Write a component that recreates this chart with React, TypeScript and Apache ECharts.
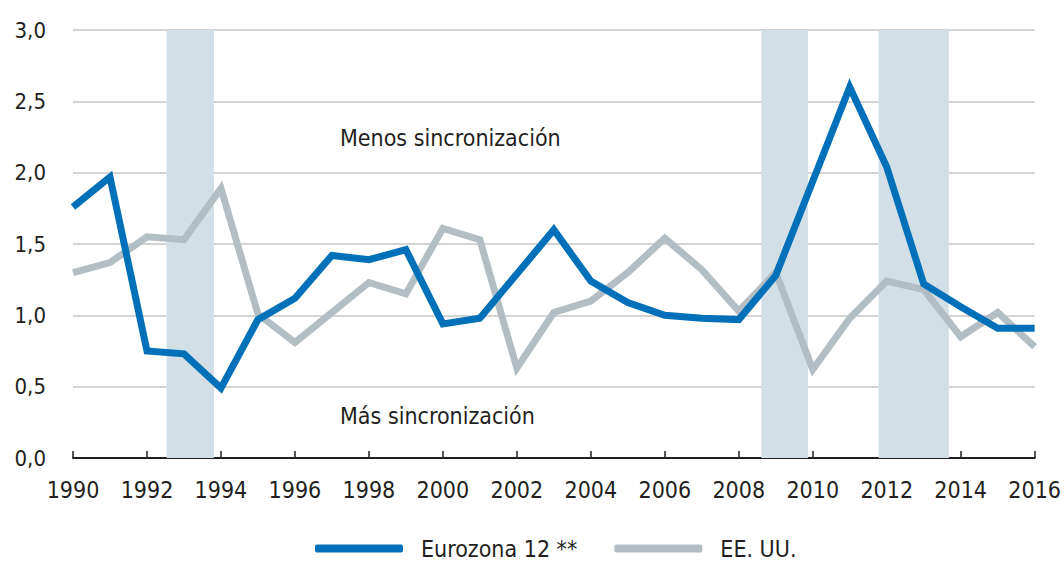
import React, { useEffect, useRef } from "react";
import * as echarts from "echarts";

const years = [1990,1991,1992,1993,1994,1995,1996,1997,1998,1999,2000,2001,2002,2003,2004,2005,2006,2007,2008,2009,2010,2011,2012,2013,2014,2015,2016];
const eurozona = [1.76,1.97,0.75,0.73,0.49,0.97,1.12,1.42,1.39,1.46,0.94,0.98,1.29,1.60,1.24,1.09,1.00,0.98,0.97,1.28,1.94,2.60,2.04,1.22,1.06,0.91,0.91];
const eeuu = [1.30,1.37,1.55,1.53,1.89,1.01,0.81,1.02,1.23,1.15,1.61,1.53,0.63,1.02,1.10,1.30,1.54,1.32,1.03,1.30,0.62,0.98,1.24,1.18,0.85,1.02,0.78];
const bands: [number, number][] = [[1992.53, 1993.81], [2008.61, 2009.87], [2011.78, 2013.68]];
const seriesNames = ["Eurozona 12 **", "EE. UU."];
const annotations = ["Menos sincronización", "Más sincronización"];

const FONT = "'DejaVu Sans Condensed', 'Liberation Sans Narrow', 'Noto Sans', sans-serif";
const TXT = "#231f20";

export default function App() {
  const ref = useRef<HTMLDivElement>(null);
  useEffect(() => {
    if (!ref.current) return;
    const chart = echarts.init(ref.current, null, { renderer: "svg" });
    chart.setOption({
      animation: false,
      backgroundColor: "#ffffff",
      grid: { left: 73, right: 28, top: 30, bottom: 103, containLabel: false },
      legend: {
        left: 315,
        top: 537,
        padding: 0,
        itemWidth: 88,
        itemHeight: 8,
        itemGap: 37,
        icon: "roundRect",
        textStyle: { fontFamily: FONT, fontSize: 23, color: TXT, padding: [0, 0, 0, 13] },
        data: seriesNames,
      },
      xAxis: {
        type: "value",
        min: 1990,
        max: 2016,
        interval: 2,
        axisLine: { show: true, lineStyle: { color: "#231f20", width: 2 } },
        axisTick: { show: true, inside: true, length: 7, lineStyle: { color: "#231f20", width: 1.5 } },
        splitLine: { show: false },
        axisLabel: { fontFamily: FONT, fontSize: 23, color: TXT, margin: 20, formatter: (v: number) => String(v) },
      },
      yAxis: {
        type: "value",
        min: 0,
        max: 3,
        interval: 0.5,
        axisLine: { show: false },
        axisTick: { show: false },
        splitLine: { show: true, lineStyle: { color: "#c6c6c6", width: 1.5 } },
        axisLabel: {
          fontFamily: FONT, fontSize: 22, color: TXT, margin: 27,
          formatter: (v: number) => v.toFixed(1).replace(".", ","),
        },
      },
      graphic: [
        { type: "text", left: 340, top: 126, style: { text: annotations[0], fontFamily: FONT, fontSize: 23, fill: TXT } },
        { type: "text", left: 340, top: 404, style: { text: annotations[1], fontFamily: FONT, fontSize: 23, fill: TXT } },
      ],
      series: [
        {
          name: "bands",
          type: "line",
          data: [],
          silent: true,
          markArea: {
            silent: true,
            itemStyle: { color: "#d3dfe7" },
            data: bands.map(([a, b]) => [{ xAxis: a }, { xAxis: b }]),
          },
        },
        {
          name: seriesNames[1],
          type: "line",
          data: years.map((y, i) => [y, eeuu[i]]),
          symbol: "none",
          lineStyle: { color: "#b3bec4", width: 7, join: "miter" },
          itemStyle: { color: "#b3bec4" },
          z: 3,
        },
        {
          name: seriesNames[0],
          type: "line",
          data: years.map((y, i) => [y, eurozona[i]]),
          symbol: "none",
          lineStyle: { color: "#0071b9", width: 7, join: "miter" },
          itemStyle: { color: "#0071b9" },
          z: 4,
        },
      ],
    });
    return () => chart.dispose();
  }, []);
  return <div ref={ref} style={{ position: "fixed", left: 0, top: 0, width: 1064, height: 561 }} />;
}
